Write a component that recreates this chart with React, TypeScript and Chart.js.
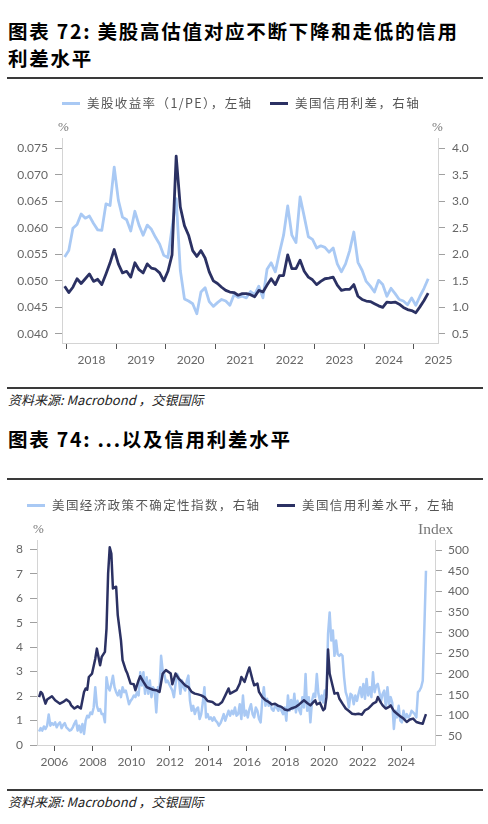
import React, { useEffect, useRef } from "react";
import { Chart, registerables } from "chart.js";

Chart.register(...registerables);

// ---------- colours ----------
const LIGHT = "#a9c9f4";
const DARK = "#2b3163";

// ---------- chart 72 data (monthly, Dec 2017 .. Apr 2025) ----------
const ch1StartMonth = "2017-12";
const earningsYield = [
  0.0545, 0.0557, 0.0599, 0.0606, 0.0626, 0.0618, 0.0622, 0.0608, 0.0596, 0.0595,
  0.0645, 0.0642, 0.0714, 0.0652, 0.0620, 0.0615, 0.0594, 0.0631, 0.0605, 0.0586,
  0.0605, 0.0597, 0.0582, 0.0569, 0.0548, 0.0544, 0.0600, 0.0655, 0.0520, 0.0466,
  0.0462, 0.0457, 0.0438, 0.0479, 0.0487, 0.0461, 0.0452, 0.0459, 0.0465, 0.0462,
  0.0454, 0.0474, 0.0469, 0.0471, 0.0468, 0.0480,
  0.0474, 0.0490, 0.0468, 0.0522, 0.0534, 0.0517, 0.0553, 0.0586, 0.0641, 0.0586,
  0.0572, 0.0658, 0.0621, 0.0583, 0.0578, 0.0562, 0.0566, 0.0563, 0.0554, 0.0562,
  0.0532, 0.0517, 0.0532, 0.0557, 0.0592, 0.0535, 0.0520, 0.0499, 0.0490, 0.0479,
  0.0501, 0.0493, 0.0471, 0.0486, 0.0476, 0.0465, 0.0462, 0.0455, 0.0468, 0.0454,
  0.0471, 0.0486, 0.0504,
];
const creditSpread1 = [
  1.40, 1.28, 1.38, 1.54, 1.45, 1.54, 1.63, 1.49, 1.53, 1.43,
  1.63, 1.84, 2.09, 1.82, 1.65, 1.68, 1.57, 1.84, 1.71, 1.65,
  1.82, 1.74, 1.72, 1.65, 1.50, 1.68, 1.99, 3.85, 2.89, 2.54,
  2.36, 2.07, 1.96, 2.07, 1.93, 1.67, 1.50, 1.45, 1.38, 1.32,
  1.29, 1.28, 1.23, 1.26, 1.26,
  1.24, 1.20, 1.32, 1.29, 1.42, 1.54, 1.43, 1.60, 1.60, 1.99,
  1.73, 1.73, 1.89, 1.68, 1.57, 1.52, 1.43, 1.49, 1.54, 1.55,
  1.57, 1.42, 1.32, 1.34, 1.34, 1.43, 1.21, 1.15, 1.12, 1.11,
  1.07, 1.03, 1.00, 1.10, 1.09, 1.10, 1.06, 1.00, 0.96, 0.94,
  0.90, 1.01, 1.13, 1.27,
];
const ch1LeftTicks = [0.04, 0.045, 0.05, 0.055, 0.06, 0.065, 0.07, 0.075];
const ch1RightTicks = [0.5, 1.0, 1.5, 2.0, 2.5, 3.0, 3.5, 4.0];
const ch1YearTicks = [2018, 2019, 2020, 2021, 2022, 2023, 2024, 2025];

// ---------- chart 74 data ----------
const ch2EpuStartMonth = "2005-03";
const epuIndex = [
  61, 69, 63, 73, 67, 75, 102, 75, 81, 77, 83, 71, 79, 83, 69, 77, 81, 71, 67, 63, 65, 71,
  80, 87, 63, 75, 59, 79, 55, 87, 99, 95, 107, 103, 119, 168, 123, 111, 115, 103, 103, 83, 192,
  168, 160, 176, 196, 168, 156, 148, 160, 144, 168, 156, 160, 144, 127,
  135,
  140, 148, 144, 156, 148, 204, 172, 204, 152, 192, 152, 184, 144, 168, 160, 107, 168, 160, 244, 208, 200, 180, 184,
  176, 168, 160, 144,
  176, 200, 192, 152, 184, 168, 160, 184, 196, 135,
  111, 123, 103, 115, 119, 91, 103, 131, 168, 95,
  103, 91, 95, 87, 95, 87, 83, 75, 81, 91,
  103, 87, 99, 111, 99, 111, 103, 119, 99, 103,
  127, 91, 148, 99, 111, 95, 115, 127, 103, 95,
  119, 111, 91, 83, 135, 168, 123, 140, 123, 131,
  115, 111, 123, 119, 111, 123, 111, 103, 119, 87,
  148, 111, 137, 115, 152, 107, 135, 113,
  103, 144, 119, 200,
  111, 144, 83, 135, 152, 144, 200, 152, 135, 148, 131, 160, 150,
  297, 349, 281, 305, 244, 281, 248, 244, 248, 244, 192,
  156, 144, 119, 152, 148, 127, 148, 135, 152, 168, 144, 176,
  140, 188, 148, 168, 144, 204, 156, 172, 176, 156, 135, 152,
  160, 119, 168, 127, 144, 131, 67, 111, 95, 123, 87, 83,
  111, 91, 103, 95, 99, 111, 107, 103, 95, 156, 160, 168,
  184, 313, 450,
];
const spreadMonths2 = [
  "2005-03", "2005-04", "2005-05", "2005-07", "2005-08", "2005-11", "2006-01", "2006-04", "2006-06", "2006-08",
  "2006-10", "2006-11", "2007-01", "2007-03", "2007-05", "2007-07", "2007-08", "2007-09", "2007-10", "2007-12",
  "2008-02", "2008-03", "2008-05", "2008-06", "2008-08", "2008-09", "2008-10", "2008-11", "2008-12", "2009-01",
  "2009-03", "2009-04", "2009-06", "2009-07", "2009-09", "2009-10", "2009-12", "2010-02", "2010-03", "2010-05",
  "2010-06", "2010-08", "2010-10", "2010-12", "2011-02", "2011-04", "2011-06", "2011-08", "2011-10", "2012-01",
  "2012-02", "2012-04", "2012-06", "2012-08", "2012-10", "2012-12", "2013-02", "2013-04", "2013-06", "2013-08",
  "2013-10", "2013-12", "2014-03", "2014-05", "2014-07", "2014-09", "2014-11", "2015-01", "2015-02", "2015-04",
  "2015-06", "2015-08", "2015-09", "2015-11", "2016-01", "2016-02", "2016-04", "2016-05", "2016-07", "2016-08",
  "2016-10", "2016-12", "2017-02", "2017-04", "2017-06", "2017-08", "2017-10", "2017-12", "2018-02", "2018-04",
  "2018-07", "2018-09", "2018-12", "2019-02", "2019-04", "2019-06", "2019-07", "2019-08", "2019-10", "2019-12",
  "2020-01", "2020-02", "2020-03", "2020-04", "2020-05", "2020-06", "2020-07", "2020-09", "2020-10", "2020-12",
  "2021-02", "2021-04", "2021-06", "2021-08", "2021-10", "2021-12", "2022-02", "2022-04", "2022-06", "2022-07",
  "2022-09", "2022-10", "2022-12", "2023-01", "2023-03", "2023-05", "2023-06", "2023-08", "2023-10", "2023-12",
  "2024-02", "2024-04", "2024-06", "2024-08", "2024-10", "2024-12", "2025-02", "2025-03", "2025-04",
];
const spreadLevel2 = [
  1.96, 2.17, 2.10, 1.69, 1.86, 1.99, 1.83, 1.69, 1.76, 1.86,
  1.76, 1.62, 1.49, 1.58, 1.49, 2.17, 2.31, 2.26, 2.78, 2.92,
  3.53, 3.94, 3.26, 3.60, 3.81, 4.76, 7.01, 8.08, 7.83, 6.40,
  6.47, 5.31, 4.28, 3.47, 3.06, 2.92, 2.51, 2.48, 2.24, 2.65,
  2.81, 2.58, 2.37, 2.31, 2.26, 2.24, 2.17, 2.92, 3.06, 2.92,
  2.48, 2.92, 2.71, 2.58, 2.44, 2.37, 2.17, 2.10, 2.07, 2.03,
  1.96, 1.80, 1.76, 1.66, 1.65, 1.76, 2.03, 2.31, 2.10, 2.17,
  2.24, 2.51, 2.78, 2.58, 2.99, 3.17, 2.65, 2.44, 2.51, 2.17,
  1.96, 1.83, 1.76, 1.66, 1.69, 1.60, 1.56, 1.45, 1.42, 1.49,
  1.56, 1.66, 1.83, 1.72, 1.62, 1.76, 1.83, 1.66, 1.72, 1.42,
  1.49, 1.96, 3.90, 2.92, 2.65, 2.37, 2.10, 2.13, 1.90, 1.69,
  1.49, 1.39, 1.28, 1.26, 1.28, 1.24, 1.42, 1.49, 1.62, 1.69,
  1.76, 1.96, 1.72, 1.62, 1.49, 1.56, 1.62, 1.39, 1.28, 1.17,
  1.08, 0.94, 1.04, 1.08, 0.94, 0.90, 0.87, 1.08, 1.26,
];
const ch2LeftTicks = [0, 1, 2, 3, 4, 5, 6, 7, 8];
const ch2RightTicks = [50, 100, 150, 200, 250, 300, 350, 400, 450, 500];
const ch2YearTicks = [2006, 2008, 2010, 2012, 2014, 2016, 2018, 2020, 2022, 2024];

// ---------- text ----------
const title1Lines = ["图表 72: 美股高估值对应不断下降和走低的信用", "利差水平"];
const title2 = "图表 74: ...以及信用利差水平";
const sourceText = "资料来源: Macrobond ，交银国际";
const legend1 = ["美股收益率（1/PE），左轴", "美国信用利差，右轴"];
const legend2 = ["美国经济政策不确定性指数，右轴", "美国信用利差水平，左轴"];

// ---------- helpers ----------
function monthToYear(m: string): number {
  const [y, mo] = m.split("-").map(Number);
  return y + (mo - 0.5) / 12;
}
function monthlyPoints(start: string, values: number[]) {
  const s = monthToYear(start);
  return values.map((v, i) => ({ x: s + i / 12, y: v }));
}
function datedPoints(months: string[], values: number[]) {
  return months.map((m, i) => ({ x: monthToYear(m), y: values[i] }));
}

const TICK_FONT = { family: "Lato, 'Noto Sans', sans-serif", size: 12 };
const TICK_COLOR = "#666666";
const CJK = "'Noto Sans CJK SC', 'Noto Sans', sans-serif";

type Cfg = {
  padTop: number;
  leftW: number;
  rightW: number;
  bottomH: number;
  xMin: number;
  xMax: number;
  xTicks: number[];
  labelOffset: number;
  yMin: number;
  yMax: number;
  yTicks: number[];
  yFmt: (v: number) => string;
  yPad: number;
  y2Min: number;
  y2Max: number;
  y2Ticks: number[];
  y2Fmt: (v: number) => string;
  y2Pad: number;
  lineW: number;
  light: { x: number; y: number }[];
  lightAxis: string;
  dark: { x: number; y: number }[];
  darkAxis: string;
};

function makeChart(canvas: HTMLCanvasElement, c: Cfg) {
  return new Chart(canvas, {
    type: "line",
    data: {
      datasets: [
        {
          data: c.dark,
          borderColor: DARK,
          backgroundColor: DARK,
          borderWidth: c.lineW,
          pointRadius: 0,
          tension: 0,
          borderJoinStyle: "round",
          yAxisID: c.darkAxis,
        },
        {
          data: c.light,
          borderColor: LIGHT,
          backgroundColor: LIGHT,
          borderWidth: c.lineW,
          pointRadius: 0,
          tension: 0,
          borderJoinStyle: "round",
          yAxisID: c.lightAxis,
        },
      ],
    },
    options: {
      responsive: false,
      animation: false,
      events: [],
      layout: { padding: { top: c.padTop, left: 0, right: 0, bottom: 0 } },
      plugins: { legend: { display: false }, tooltip: { enabled: false }, title: { display: false } },
      scales: {
        x: {
          type: "linear",
          min: c.xMin,
          max: c.xMax,
          afterBuildTicks: (s: any) => {
            s.ticks = c.xTicks.map((v) => ({ value: v }));
          },
          afterFit: (s: any) => {
            s.height = c.bottomH;
          },
          grid: { drawOnChartArea: false, drawTicks: true, tickLength: 6, color: "#555555", lineWidth: 1 },
          border: { display: true, color: "#d4d4d4", width: 1 },
          ticks: {
            autoSkip: false,
            maxRotation: 0,
            minRotation: 0,
            padding: 4,
            labelOffset: c.labelOffset,
            color: TICK_COLOR,
            font: TICK_FONT,
            callback: (v: any) => String(v),
          },
        },
        y: {
          type: "linear",
          position: "left",
          min: c.yMin,
          max: c.yMax,
          afterBuildTicks: (s: any) => {
            s.ticks = c.yTicks.map((v) => ({ value: v }));
          },
          afterFit: (s: any) => {
            s.width = c.leftW;
          },
          grid: { drawOnChartArea: false, drawTicks: true, tickLength: 7, color: "#a0a0a0", lineWidth: 1 },
          border: { display: true, color: "#d4d4d4", width: 1 },
          ticks: { padding: c.yPad, color: TICK_COLOR, font: TICK_FONT, callback: (v: any) => c.yFmt(Number(v)) },
        },
        y2: {
          type: "linear",
          position: "right",
          min: c.y2Min,
          max: c.y2Max,
          afterBuildTicks: (s: any) => {
            s.ticks = c.y2Ticks.map((v) => ({ value: v }));
          },
          afterFit: (s: any) => {
            s.width = c.rightW;
          },
          grid: { drawOnChartArea: false, drawTicks: true, tickLength: 7, color: "#a0a0a0", lineWidth: 1 },
          border: { display: true, color: "#d4d4d4", width: 1 },
          ticks: { padding: c.y2Pad, color: TICK_COLOR, font: TICK_FONT, callback: (v: any) => c.y2Fmt(Number(v)) },
        },
      },
    } as any,
  });
}

function Abs(props: { left: number; cy: number; h?: number; style?: React.CSSProperties; children: React.ReactNode }) {
  const h = props.h ?? 20;
  return (
    <div
      style={{
        position: "absolute",
        left: props.left,
        top: props.cy - h / 2,
        height: h,
        lineHeight: h + "px",
        whiteSpace: "nowrap",
        ...props.style,
      }}
    >
      {props.children}
    </div>
  );
}

function LegendLine(props: { left: number; cy: number; color: string }) {
  return (
    <div
      style={{
        position: "absolute",
        left: props.left,
        top: props.cy - 1.5,
        width: 18,
        height: 3,
        background: props.color,
      }}
    />
  );
}

const legendStyle: React.CSSProperties = {
  fontFamily: CJK,
  fontSize: 12.5,
  letterSpacing: 1.4,
  color: "#555555",
};
const unitStyle: React.CSSProperties = {
  fontFamily: "'Liberation Serif', 'DejaVu Serif', serif",
  fontSize: 13,
  color: "#777777",
};
const titleStyle: React.CSSProperties = {
  fontFamily: CJK,
  fontSize: 19.5,
  fontWeight: 700,
  letterSpacing: 1.75,
  color: "#000000",
};
const sourceStyle: React.CSSProperties = {
  fontFamily: CJK,
  fontSize: 13,
  fontStyle: "italic",
  color: "#222222",
};

function Rule(props: { top: number; h: number }) {
  return (
    <div style={{ position: "absolute", left: 7, width: 476, top: props.top, height: props.h, background: "#3a3a3a" }} />
  );
}

export default function App() {
  const ref1 = useRef<HTMLCanvasElement | null>(null);
  const ref2 = useRef<HTMLCanvasElement | null>(null);

  useEffect(() => {
    const c1 = ref1.current!;
    const c2 = ref2.current!;
    // chart 72 geometry
    const x1Min = 2017.905;
    const x1Max = 2025.49;
    const plot1W = 488 - 62 - 50;
    const chart1 = makeChart(c1, {
      padTop: 58,
      leftW: 62,
      rightW: 50,
      bottomH: 42,
      xMin: x1Min,
      xMax: x1Max,
      xTicks: ch1YearTicks,
      labelOffset: plot1W / (x1Max - x1Min) / 2,
      yMin: 0.0383,
      yMax: 0.0769,
      yTicks: ch1LeftTicks,
      yFmt: (v) => v.toFixed(3),
      yPad: 7,
      y2Min: 0.33,
      y2Max: 4.19,
      y2Ticks: ch1RightTicks,
      y2Fmt: (v) => v.toFixed(1),
      y2Pad: 7,
      lineW: 2.8,
      light: monthlyPoints(ch1StartMonth, earningsYield),
      lightAxis: "y",
      dark: monthlyPoints(ch1StartMonth, creditSpread1),
      darkAxis: "y2",
    });
    const chart2 = makeChart(c2, {
      padTop: 60,
      leftW: 37,
      rightW: 53,
      bottomH: 42,
      xMin: 2005.1,
      xMax: 2025.76,
      xTicks: ch2YearTicks,
      labelOffset: 0,
      yMin: 0,
      yMax: 8.38,
      yTicks: ch2LeftTicks,
      yFmt: (v) => String(Math.round(v)),
      yPad: 7,
      y2Min: 28.2,
      y2Max: 524.2,
      y2Ticks: ch2RightTicks,
      y2Fmt: (v) => String(Math.round(v)),
      y2Pad: 6,
      lineW: 2.5,
      light: monthlyPoints(ch2EpuStartMonth, epuIndex),
      lightAxis: "y2",
      dark: datedPoints(spreadMonths2, spreadLevel2),
      darkAxis: "y",
    });
    return () => {
      chart1.destroy();
      chart2.destroy();
    };
  }, []);

  return (
    <div
      style={{
        position: "absolute",
        left: 0,
        top: 0,
        width: 488,
        height: 824,
        background: "#ffffff",
        overflow: "hidden",
      }}
    >
      {/* Title 72 */}
      <Abs left={8} cy={31} h={26} style={titleStyle}>
        {title1Lines[0]}
      </Abs>
      <Abs left={8} cy={57.5} h={26} style={titleStyle}>
        {title1Lines[1]}
      </Abs>
      <Rule top={76.5} h={2.5} />

      {/* Chart 72 */}
      <canvas
        ref={ref1}
        width={488}
        height={305}
        style={{ position: "absolute", left: 0, top: 80, width: 488, height: 305 }}
      />
      <LegendLine left={62} cy={103} color={LIGHT} />
      <Abs left={87} cy={103} style={legendStyle}>
        {legend1[0]}
      </Abs>
      <LegendLine left={270} cy={103} color={DARK} />
      <Abs left={295} cy={103} style={legendStyle}>
        {legend1[1]}
      </Abs>
      <Abs left={58} cy={127} style={unitStyle}>
        %
      </Abs>
      <Abs left={432} cy={127} style={unitStyle}>
        %
      </Abs>

      <Rule top={387} h={2} />
      <Abs left={8} cy={399.5} style={sourceStyle}>
        {sourceText}
      </Abs>

      {/* Title 74 */}
      <Abs left={8} cy={438.5} h={26} style={titleStyle}>
        {title2}
      </Abs>
      <Rule top={478} h={2} />

      {/* Chart 74 */}
      <canvas
        ref={ref2}
        width={488}
        height={307}
        style={{ position: "absolute", left: 0, top: 480, width: 488, height: 307 }}
      />
      <LegendLine left={27} cy={505} color={LIGHT} />
      <Abs left={52} cy={505} style={legendStyle}>
        {legend2[0]}
      </Abs>
      <LegendLine left={277} cy={505} color={DARK} />
      <Abs left={302} cy={505} style={legendStyle}>
        {legend2[1]}
      </Abs>
      <Abs left={33} cy={529} style={unitStyle}>
        %
      </Abs>
      <Abs left={418} cy={529} style={{ ...unitStyle, fontSize: 15.5 }}>
        Index
      </Abs>

      <Rule top={789} h={2} />
      <Abs left={8} cy={802} style={sourceStyle}>
        {sourceText}
      </Abs>
    </div>
  );
}
